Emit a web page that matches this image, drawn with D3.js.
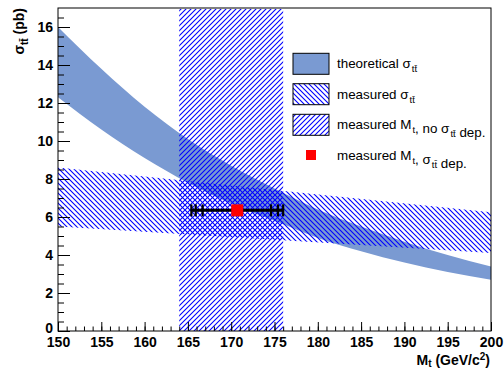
<!DOCTYPE html>
<html>
<head>
<meta charset="utf-8">
<script src="https://cdn.jsdelivr.net/npm/d3@7"></script>
<style>
  body { margin: 0; background: #fff; }
  text { font-family: "Liberation Sans", Arial, sans-serif; }
</style>
</head>
<body>
<div id="chart"></div>
<script>
// theoretical cross section band vs top mass
var theoMass  = [150, 155, 160, 165, 170, 175, 180, 185, 190, 195, 200],
    theoUpper = [16.0, 13.8, 11.8, 10.1, 8.7, 7.5, 6.4, 5.5, 4.7, 4.0, 3.4],
    theoLower = [12.3, 10.6, 9.1, 7.8, 6.7, 5.8, 4.9, 4.2, 3.6, 3.1, 2.7];

// measured cross section band (depends slightly on mass)
var sigMass  = [150, 175, 200],
    sigUpper = [8.6, 7.42, 6.25],
    sigLower = [5.5, 4.8, 4.1];

// measured mass, no cross section dependence
var mtBand = [164, 176];

// measured mass with cross section dependence
var mtPoint = 170.7, sigPoint = 6.35,
    errLow  = [4.0, 4.8, 5.3],
    errHigh = [3.9, 4.7, 5.3];

var xTicks = [150, 155, 160, 165, 170, 175, 180, 185, 190, 195, 200],
    yTicks = [0, 2, 4, 6, 8, 10, 12, 14, 16];

var legendLabels = ["theoretical σ", "measured σ", "measured M", "measured M"];

var width = 504, height = 369,
    x = d3.scaleLinear().domain([150, 200]).range([58, 491]),
    y = d3.scaleLinear().domain([0, 17]).range([331, 8]),
    theoColor = "#7a9ad2";

var svg = d3.select("#chart").append("svg")
    .attr("width", width)
    .attr("height", height);

var defs = svg.append("defs");
function hatch(id, dir) {
    var p = 5;
    defs.append("pattern")
        .attr("id", id)
        .attr("patternUnits", "userSpaceOnUse")
        .attr("width", p).attr("height", p)
      .append("path")
        .attr("d", dir > 0
            ? `M0,${p} L${p},0 M-1,1 L1,-1 M${p - 1},${p + 1} L${p + 1},${p - 1}`
            : `M0,0 L${p},${p} M-1,${p - 1} L1,${p + 1} M${p - 1},-1 L${p + 1},1`)
        .attr("stroke", "#0000ff")
        .attr("stroke-width", 1.1);
}
hatch("hatchBack", -1);
hatch("hatchFwd", 1);

// theoretical band
var theoArea = d3.area()
    .x(d => x(d[0])).y0(d => y(d[2])).y1(d => y(d[1]))
    .curve(d3.curveMonotoneX);
svg.append("path")
    .datum(theoMass.map((m, i) => [m, theoUpper[i], theoLower[i]]))
    .attr("d", theoArea)
    .attr("fill", theoColor);

// measured sigma band
var sigArea = d3.area()
    .x(d => x(d[0])).y0(d => y(d[2])).y1(d => y(d[1]));
svg.append("path")
    .datum(sigMass.map((m, i) => [m, sigUpper[i], sigLower[i]]))
    .attr("d", sigArea)
    .attr("fill", "url(#hatchBack)");

// measured mass band
svg.append("rect")
    .attr("x", x(mtBand[0]))
    .attr("width", x(mtBand[1]) - x(mtBand[0]))
    .attr("y", y(17) + 1)
    .attr("height", y(0) - y(17) - 1)
    .attr("fill", "url(#hatchFwd)");

// error bars
var py = y(sigPoint);
svg.append("line")
    .attr("x1", x(mtPoint - d3.max(errLow))).attr("x2", x(mtPoint + d3.max(errHigh)))
    .attr("y1", py).attr("y2", py)
    .attr("stroke", "#000").attr("stroke-width", 3);
var caps = errLow.map(e => mtPoint - e).concat(errHigh.map(e => mtPoint + e));
svg.selectAll(".cap").data(caps).enter().append("line")
    .attr("x1", d => x(d)).attr("x2", d => x(d))
    .attr("y1", py - 6).attr("y2", py + 6)
    .attr("stroke", "#000").attr("stroke-width", 2.2);
svg.append("rect")
    .attr("x", x(mtPoint) - 6).attr("y", py - 6)
    .attr("width", 12).attr("height", 12)
    .attr("fill", "#ff0000");

// axes
function styleAxis(g) {
    g.select(".domain").remove();
    g.selectAll("line").attr("stroke", "#000");
    g.selectAll("text")
        .attr("font-family", "Liberation Sans, Arial, sans-serif")
        .attr("font-size", 14).attr("font-weight", "bold").attr("fill", "#000");
}
svg.append("g").attr("transform", `translate(0,${y(0)})`)
    .call(d3.axisBottom(x).tickValues(d3.range(150, 201, 1)).tickSize(-4.5).tickFormat(""))
    .call(styleAxis);
svg.append("g").attr("transform", `translate(0,${y(0)})`)
    .call(d3.axisBottom(x).tickValues(xTicks).tickSize(-9).tickPadding(6).tickFormat(d3.format("d")))
    .call(styleAxis);
svg.append("g").attr("transform", `translate(${x(150)},0)`)
    .call(d3.axisLeft(y).tickValues(d3.range(0, 17, 0.5)).tickSize(-6).tickFormat(""))
    .call(styleAxis);
svg.append("g").attr("transform", `translate(${x(150)},0)`)
    .call(d3.axisLeft(y).tickValues(yTicks).tickSize(-12).tickPadding(5).tickFormat(d3.format("d")))
    .call(styleAxis)
    .selectAll("text").filter(d => d === 0).attr("dy", "0.12em");

svg.append("rect")
    .attr("x", x(150)).attr("y", y(17))
    .attr("width", x(200) - x(150)).attr("height", y(0) - y(17))
    .attr("fill", "none").attr("stroke", "#000").attr("stroke-width", 1);

// axis titles
var xt = svg.append("text")
    .attr("x", 490).attr("y", 365)
    .attr("text-anchor", "end")
    .attr("font-size", 14).attr("font-weight", "bold");
xt.append("tspan").text("M");
xt.append("tspan").attr("font-size", 10).attr("dy", 2).text("t");
xt.append("tspan").attr("dy", -2).text(" (GeV/c");
xt.append("tspan").attr("font-size", 10).attr("dy", -5).text("2");
xt.append("tspan").attr("dy", 5).text(")");

var yt = svg.append("text")
    .attr("transform", "translate(24,8) rotate(-90)")
    .attr("text-anchor", "end")
    .attr("font-size", 14).attr("font-weight", "bold");
yt.append("tspan").text("σ");
yt.append("tspan").attr("font-size", 10).attr("dy", 4).text("tt̄");
yt.append("tspan").attr("dy", -4).text(" (pb)");

// legend
var lg = svg.append("g"),
    rowY = [63.8, 94.2, 124.8, 155];
lg.append("rect").attr("x", 293).attr("y", rowY[0] - 10.5).attr("width", 36).attr("height", 21)
    .attr("fill", theoColor).attr("stroke", "#000");
lg.append("rect").attr("x", 293).attr("y", rowY[1] - 10.5).attr("width", 36).attr("height", 21)
    .attr("fill", "url(#hatchBack)").attr("stroke", "#000");
lg.append("rect").attr("x", 293).attr("y", rowY[2] - 10.5).attr("width", 36).attr("height", 21)
    .attr("fill", "url(#hatchFwd)").attr("stroke", "#000");
lg.append("rect").attr("x", 306).attr("y", rowY[3] - 5).attr("width", 10).attr("height", 10)
    .attr("fill", "#ff0000");

function sub(t, s) {
    t.append("tspan").attr("font-size", 9.5).attr("dx", 1).attr("dy", 4).text(s);
    t.append("tspan").attr("dx", 1).attr("dy", -4).text("");
}
legendLabels.forEach(function(lbl, i) {
    var t = lg.append("text")
        .attr("x", 337).attr("y", rowY[i] + 4.5)
        .attr("font-size", 13.4).attr("fill", "#000");
    t.append("tspan").text(lbl);
    if (i < 2) {
        sub(t, "tt̄");
    } else {
        sub(t, "t");
        t.append("tspan").text(i == 2 ? ", no σ" : ", σ");
        sub(t, "tt̄");
        t.append("tspan").text(" dep.");
    }
});
</script>
</body>
</html>
